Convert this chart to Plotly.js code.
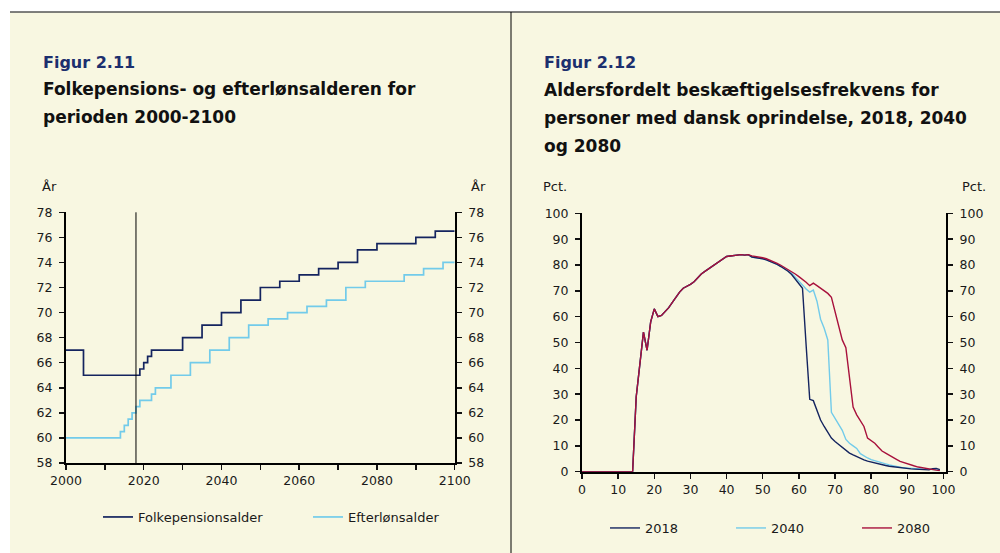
<!DOCTYPE html>
<html>
<head>
<meta charset="utf-8">
<script src="https://cdn.plot.ly/plotly-3.0.1.min.js"></script>
<style>
  html, body { margin: 0; padding: 0; background: #ffffff; }
  #chart { width: 1000px; height: 553px; }
</style>
</head>
<body>
<div id="chart"></div>
<script>
// ---------- Figur 2.11 data ----------
const pensionYears = [2000, 2004.5, 2019, 2020, 2021, 2022, 2030, 2035, 2040, 2045, 2050, 2055, 2060, 2065, 2070, 2075, 2080, 2090, 2095, 2100];
const pensionAge   = [67, 65, 65.5, 66, 66.5, 67, 68, 69, 70, 71, 72, 72.5, 73, 73.5, 74, 75, 75.5, 76, 76.5, 76.5];
const earlyYears   = [2000, 2014, 2015, 2016, 2017, 2018, 2019, 2022, 2023, 2027, 2032, 2037, 2042, 2047, 2052, 2057, 2062, 2067, 2072, 2077, 2087, 2092, 2097, 2100];
const earlyAge     = [60, 60.5, 61, 61.5, 62, 62.5, 63, 63.5, 64, 65, 66, 67, 68, 69, 69.5, 70, 70.5, 71, 72, 72.5, 73, 73.5, 74, 74];
const referenceYear = 2018;
const yearTicks = [2000, 2010, 2020, 2030, 2040, 2050, 2060, 2070, 2080, 2090, 2100];
const yearTickText = ['2000', '', '2020', '', '2040', '', '2060', '', '2080', '', '2100'];
const ageTicks = [58, 60, 62, 64, 66, 68, 70, 72, 74, 76, 78];

// ---------- Figur 2.12 data ----------
const ages = Array.from({length: 101}, (_, i) => i);
const youth = [0,0,0,0,0,0,0,0,0,0,0,0,0,0,0,29,42,54,47,58,63,60,60.5,62,63.5,65.5,67.5,69.5,71,71.7,72.5,73.5,75,76.5,77.5,78.5,79.5,80.5,81.5,82.5,83.3,83.5,83.6,83.8,84,83.8,84];
const emp2018 = youth.concat([83.1,82.9,82.7,82.4,82,81.5,80.9,80.2,79.4,78.6,77.6,76.3,74.5,72.5,71,49,28,27.5,24,20,17.5,15,13,11.7,10.5,9.3,8.2,7.2,6.5,5.8,5.2,4.6,4.1,3.7,3.3,3,2.7,2.4,2.1,1.9,1.7,1.5,1.3,1.2,1.1,1,0.9,0.8,0.7,0.7,1.2,1.3,0.8]);
const emp2040 = youth.concat([83.1,82.9,82.7,82.4,82,81.5,80.9,80.2,79.5,78.7,77.8,76.8,75.3,73.7,72.2,70.7,69.5,70.3,66,59,55.5,51,23,20.5,18,16,12.5,11,10,9,7,6,5.3,4.7,4.2,3.8,3.4,3,2.6,2.3,2,1.8,1.5,1.4,1.3,1.2,1.1,1,0.9,0.9,0.8,0.8,0.7]);
const emp2080 = youth.concat([83.5,83.3,83.1,82.8,82.4,81.9,81.3,80.6,79.9,79.1,78.3,77.5,76.5,75.5,74.5,73.3,72,73,72,71,70,69,67.5,62,56,51,48,37,25,22,20,17.5,13,12,11,9.5,8,7.2,6.3,5.5,4.8,4,3.5,3,2.6,2.2,1.8,1.5,1.3,1.1,0.8,0.6,0.4]);
const ageAxisTicks = [0, 10, 20, 30, 40, 50, 60, 70, 80, 90, 100];
const pctTicks = [0, 10, 20, 30, 40, 50, 60, 70, 80, 90, 100];

// ---------- styling ----------
const W = 1000, H = 553;
const px = v => v / W;
const py = v => 1 - v / H;
const FONT = 'DejaVu Sans, Liberation Sans, Arial, sans-serif';
const NAVY = '#14245f', LIGHT = '#72cbea', RED = '#a8113c';
const CREAM = '#f8f7e1';
const tickFont = {family: FONT, size: 12.5, color: '#1a1a1a'};

function yAxisCommon(range, ticks, extra) {
  return Object.assign({
    range: range, tickvals: ticks, ticks: 'outside', ticklen: 5, tickwidth: 1.5, tickcolor: '#111',
    showline: true, linewidth: 2, linecolor: '#000', showgrid: false, zeroline: false,
    tickfont: tickFont, fixedrange: true, ticklabelstandoff: 4
  }, extra);
}

const traces = [
  {x: pensionYears, y: pensionAge, type: 'scatter', mode: 'lines', line: {shape: 'hv', color: NAVY, width: 1.7},
   name: 'Folkepensionsalder', xaxis: 'x', yaxis: 'y', legend: 'legend', legendrank: 1},
  {x: earlyYears, y: earlyAge, type: 'scatter', mode: 'lines', line: {shape: 'hv', color: LIGHT, width: 1.7},
   name: 'Efterlønsalder', xaxis: 'x', yaxis: 'y', legend: 'legend', legendrank: 2},
  {x: [yearTicks[0]], y: [ageTicks[0]], type: 'scatter', mode: 'markers', marker: {opacity: 0},
   xaxis: 'x', yaxis: 'y2', showlegend: false, hoverinfo: 'skip'},
  {x: ages, y: emp2040, type: 'scatter', mode: 'lines', line: {color: LIGHT, width: 1.4},
   name: '2040', xaxis: 'x2', yaxis: 'y3', legend: 'legend2', legendrank: 2},
  {x: ages, y: emp2018, type: 'scatter', mode: 'lines', line: {color: NAVY, width: 1.4},
   name: '2018', xaxis: 'x2', yaxis: 'y3', legend: 'legend2', legendrank: 1},
  {x: ages, y: emp2080, type: 'scatter', mode: 'lines', line: {color: RED, width: 1.4},
   name: '2080', xaxis: 'x2', yaxis: 'y3', legend: 'legend2', legendrank: 3},
  {x: [0], y: [0], type: 'scatter', mode: 'markers', marker: {opacity: 0},
   xaxis: 'x2', yaxis: 'y4', showlegend: false, hoverinfo: 'skip'}
];

const ann = (text, x, y, size, color, bold) => ({
  text: bold ? '<b>' + text + '</b>' : text, x: px(x), y: py(y), xref: 'paper', yref: 'paper',
  xanchor: 'left', yanchor: 'middle', showarrow: false,
  font: {family: FONT, size: size, color: color}
});

const layout = {
  width: W, height: H,
  margin: {l: 0, r: 0, t: 0, b: 0},
  paper_bgcolor: '#ffffff', plot_bgcolor: 'rgba(0,0,0,0)',
  showlegend: true, hovermode: false,
  font: {family: FONT, color: '#1a1a1a'},
  xaxis: {
    domain: [px(66), px(454.7)], range: [2000, 2100], anchor: 'y',
    tickvals: yearTicks, ticktext: yearTickText, ticks: 'outside', ticklen: 5, tickwidth: 1.5, tickcolor: '#111',
    showline: true, linewidth: 2, linecolor: '#000', showgrid: false, zeroline: false,
    tickfont: tickFont, fixedrange: true
  },
  yaxis: yAxisCommon([58, 78], ageTicks, {domain: [py(463), py(212.3)], anchor: 'x', side: 'left'}),
  yaxis2: yAxisCommon([58, 78], ageTicks, {overlaying: 'y', anchor: 'x', side: 'right'}),
  xaxis2: {
    domain: [px(582), px(946)], range: [0, 100.7], anchor: 'y3',
    tickvals: ageAxisTicks, ticks: 'outside', ticklen: 5, tickwidth: 1.5, tickcolor: '#111',
    showline: true, linewidth: 2, linecolor: '#000', showgrid: false, zeroline: false,
    tickfont: tickFont, fixedrange: true
  },
  yaxis3: yAxisCommon([0, 100], pctTicks, {domain: [py(471.7), py(213.3)], anchor: 'x2', side: 'left'}),
  yaxis4: yAxisCommon([0, 100], pctTicks, {overlaying: 'y3', anchor: 'x2', side: 'right'}),
  legend: {
    orientation: 'h', x: px(98), y: py(517), xanchor: 'left', yanchor: 'middle',
    bgcolor: 'rgba(0,0,0,0)', font: {family: FONT, size: 13, color: '#1a1a1a'},
    entrywidth: 165, itemwidth: 30, traceorder: 'normal'
  },
  legend2: {
    orientation: 'h', x: px(605), y: py(528), xanchor: 'left', yanchor: 'middle',
    bgcolor: 'rgba(0,0,0,0)', font: {family: FONT, size: 13, color: '#1a1a1a'},
    entrywidth: 81, itemwidth: 30, traceorder: 'normal'
  },
  shapes: [
    {type: 'rect', xref: 'paper', yref: 'paper', x0: px(10), x1: 1, y0: 0, y1: py(12.5),
     fillcolor: CREAM, line: {width: 0}, layer: 'below'},
    {type: 'line', xref: 'paper', yref: 'paper', x0: px(10), x1: 1, y0: py(12), y1: py(12),
     line: {color: '#000', width: 1}},
    {type: 'line', xref: 'paper', yref: 'paper', x0: px(511), x1: px(511), y0: 0, y1: py(12),
     line: {color: '#000', width: 1}},
    {type: 'line', xref: 'x', yref: 'y domain', x0: referenceYear, x1: referenceYear, y0: 0, y1: 1,
     line: {color: '#000', width: 1}, layer: 'above'}
  ],
  annotations: [
    ann('Figur 2.11', 41, 62, 16, '#1c2f6e', true),
    ann('Folkepensions- og efterlønsalderen for', 41, 89, 17, '#111', true),
    ann('perioden 2000-2100', 41, 117, 17, '#111', true),
    ann('År', 40, 187, 13, '#1a1a1a', false),
    ann('År', 469, 187, 13, '#1a1a1a', false),
    ann('Figur 2.12', 542, 62, 16, '#1c2f6e', true),
    ann('Aldersfordelt beskæftigelsesfrekvens for', 542, 90, 17, '#111', true),
    ann('personer med dansk oprindelse, 2018, 2040', 542, 118, 17, '#111', true),
    ann('og 2080', 542, 146, 17, '#111', true),
    ann('Pct.', 541, 187, 13, '#1a1a1a', false),
    ann('Pct.', 960, 187, 13, '#1a1a1a', false)
  ]
};

Plotly.newPlot('chart', traces, layout, {displayModeBar: false, staticPlot: true});
</script>
</body>
</html>
